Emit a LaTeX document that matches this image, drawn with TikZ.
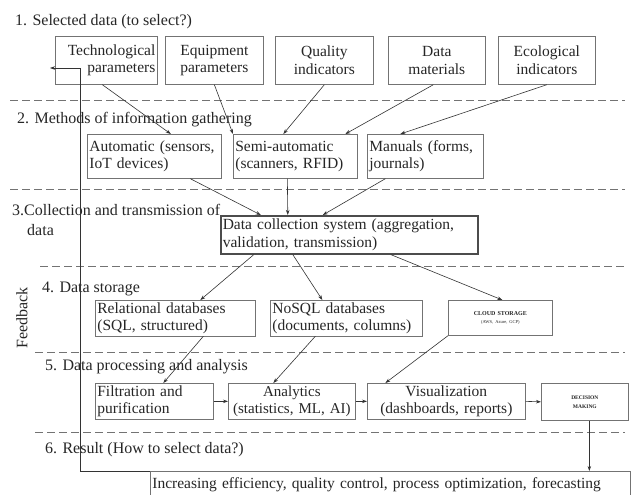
\documentclass[tikz,border=0pt]{standalone}
\usepackage{fontspec}
\setmainfont{Liberation Serif}
\usetikzlibrary{arrows.meta,calc}
\begin{document}
\begin{tikzpicture}[x=1pt,y=-1pt,
  box/.style={draw=black!55,line width=0.7pt,inner xsep=2pt,inner ysep=2pt,font=\fontsize{15.5}{17.5}\selectfont,text=black!85,anchor=north west},
  lbl/.style={anchor=west,inner sep=0pt,font=\fontsize{16}{18}\selectfont,text=black!85},
  sep/.style={draw=black!55,line width=0.8pt,dash pattern=on 8pt off 4pt},
  arr/.style={draw=black!80,line width=0.6pt,-{Stealth[length=5pt,width=3.5pt]}}]
\useasboundingbox (0,0) rectangle (633,495);
\fill[white] (0,0) rectangle (633,495);

% separators
\draw[sep] (10,100) -- (625,100);
\draw[sep] (10,189) -- (625,189);
\draw[sep] (40,266) -- (625,266);
\draw[sep] (35,352) -- (625,352);
\draw[sep] (35,432) -- (625,432);

% section labels
\node[lbl] (l1) at (15,22) {1. Selected data (to select?)};
\node[lbl] (l2) at (17,120) {2. Methods of information gathering};
\node[lbl] (l3) at (12,210) {3.Collection and transmission of};
\node[lbl] (l3b) at (27,230) {data};
\node[lbl] (l4) at (42,289) {4. Data storage};
\node[lbl] (l5) at (45,367) {5. Data processing and analysis};
\node[lbl] (l6) at (45,450) {6. Result (How to select data?)};
\node[lbl,rotate=90,anchor=center] (fb) at (22,318) {Feedback};

% row 1
\node[box,minimum height=48pt,text width=98pt,align=right] (tech) at (55,36) {Technological\\parameters};
\node[box,minimum height=48pt,text width=94pt,align=center] (equip) at (165,36) {Equipment\\parameters};
\node[box,minimum height=48pt,text width=94pt,align=center] (qual) at (275,36) {Quality\\indicators};
\node[box,minimum height=48pt,text width=93pt,align=center] (mat) at (388,36) {Data\\materials};
\node[box,minimum height=48pt,text width=93pt,align=center] (eco) at (498,36) {Ecological\\indicators};

% row 2
\node[box,minimum height=44pt,text width=130pt,align=left] (auto) at (87,134) {Automatic (sensors,\\IoT devices)};
\node[box,minimum height=44pt,text width=120pt,align=left] (semi) at (233,134) {Semi-automatic\\(scanners, RFID)};
\node[box,minimum height=44pt,text width=112pt,align=left] (man) at (367,134) {Manuals (forms,\\journals)};

% row 3
\node[box,draw=black!70,line width=1.6pt,minimum height=38pt,text width=253pt,align=left] (dc) at (220,215) {Data collection system (aggregation,\\validation, transmission)};

% row 4
\node[box,minimum height=34pt,text width=156pt,align=left] (rel) at (95,300) {Relational databases\\(SQL, structured)};
\node[box,minimum height=34pt,text width=148pt,align=left] (nosql) at (270,300) {NoSQL databases\\(documents, columns)};
\node[box,minimum height=35pt,text width=100pt,align=center,font=\fontsize{6}{8}\selectfont] (cloud) at (448,300) {\textbf{CLOUD STORAGE}\\{\fontsize{4.5}{6}\selectfont (AWS, Azure, GCP)}};

% row 5
\node[box,minimum height=36pt,text width=114pt,align=left] (filt) at (95,383) {Filtration and\\purification};
\node[box,minimum height=36pt,inner xsep=0pt,text width=127pt,align=center,font=\fontsize{15}{17.5}\selectfont] (anal) at (228,383) {Analytics\\(statistics, ML, AI)};
\node[box,minimum height=36pt,text width=154pt,align=center] (vis) at (367,383) {Visualization\\(dashboards, reports)};
\node[box,minimum height=37pt,text width=83pt,align=center,font=\fontsize{5.5}{9}\selectfont] (dec) at (541,383) {\textbf{DECISION}\\\textbf{MAKING}};

% result
\node[box,minimum height=26pt,text width=476pt,align=left] (res) at (150,471) {Increasing efficiency, quality control, process optimization, forecasting};

% connectors
\draw[arr] ([xshift=-4pt]tech.south) -- ([xshift=16.5pt]auto.north);
\draw[arr] (equip.south) -- (semi.north west);
\draw[arr] (qual.south) -- ([xshift=-12pt]semi.north);
\draw[arr] ([xshift=-3.5pt]mat.south) -- ([xshift=50pt]semi.north);
\draw[arr] (eco.south) -- ([xshift=-25pt]man.north);
\draw[arr] ([xshift=36pt]auto.south) -- ([xshift=-88.5pt]dc.north);
\draw[arr] ([xshift=-8pt]semi.south) -- ([xshift=-61.5pt]dc.north);
\draw[arr] ([xshift=-40pt]man.south) -- ([xshift=-26.5pt]dc.north);
\draw[arr] ([xshift=-95.5pt]dc.south) -- ([xshift=25pt]rel.north);
\draw[arr] ([xshift=-56.5pt]dc.south) -- ([xshift=-24pt]nosql.north);
\draw[arr] ([xshift=41.5pt]dc.south) -- ([xshift=2pt]cloud.north);
\draw[arr] ([xshift=28pt]rel.south) -- ([xshift=9pt]filt.north);
\draw[arr] ([xshift=-31pt]nosql.south) -- ([xshift=-18.5pt]anal.north);
\draw[arr] (cloud.south west) -- ([xshift=-61pt]vis.north);
\draw[arr] (filt.east) -- (anal.west);
\draw[arr] (anal.east) -- (vis.west);
\draw[arr] (vis.east) -- (dec.west);
\coordinate (d1) at ([xshift=4.5pt]dec.south);
\draw[arr] (d1) -- (d1 |- res.north);

% feedback loop
\coordinate (fbc) at (80,471);
\coordinate (fbt) at (80,68);
\coordinate (fbe) at (50,68);
\draw[arr] (res.north west) -- (fbc) -- (fbt) -- (fbe);
\end{tikzpicture}
\end{document}
